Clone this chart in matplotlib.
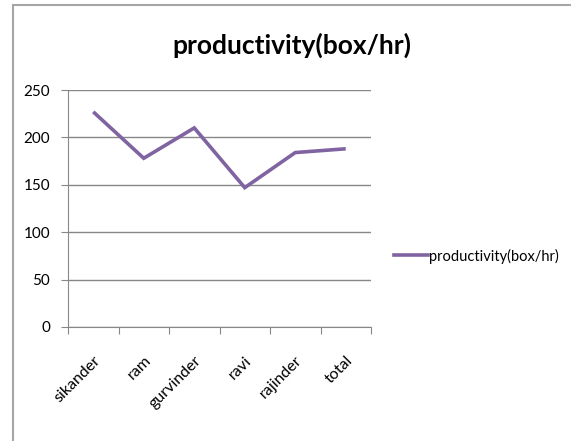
import matplotlib
matplotlib.use("Agg")
import matplotlib.pyplot as plt
from matplotlib.lines import Line2D
import numpy as np

categories = ["sikander", "ram", "gurvinder", "ravi", "rajinder", "total"]
productivity = [227, 178, 210, 147, 184, 188]
y_ticks = [0, 50, 100, 150, 200, 250]
series_name = "productivity(box/hr)"

plt.rcParams["font.family"] = ["Lato", "DejaVu Sans"]

W, H = 571, 441
fig = plt.figure(figsize=(W / 100, H / 100), dpi=100)

# chart frame: top and left edges
fig.add_artist(Line2D([13 / W, 1], [1 - 5 / H, 1 - 5 / H], color="#a6a6a6", lw=1.5,
                      transform=fig.transFigure))
fig.add_artist(Line2D([13 / W, 13 / W], [0, 1 - 5 / H], color="#a6a6a6", lw=1.5,
                      transform=fig.transFigure))

left, right, top, bottom = 68, 371, 90, 327
ax = fig.add_axes([left / W, 1 - bottom / H, (right - left) / W, (bottom - top) / H])

x = np.arange(len(categories))
ax.plot(x, productivity, color="#8064A2", lw=2.6, solid_capstyle="butt",
        solid_joinstyle="miter", label=series_name, zorder=3)

ax.set_xlim(-0.5, len(categories) - 0.5)
ax.set_ylim(0, 250)
ax.set_yticks(y_ticks)
ax.set_yticklabels([str(v) for v in y_ticks], fontsize=11)
ax.grid(axis="y", color="#878787", lw=1)
ax.set_axisbelow(True)

ax.set_xticks(np.arange(len(categories) + 1) - 0.5)
ax.set_xticklabels([])
ax.set_xticks(x, minor=True)
ax.set_xticklabels(categories, minor=True, rotation=45, ha="right",
                   rotation_mode="anchor", fontsize=11.5)
ax.tick_params(axis="x", which="minor", length=0, pad=19)
ax.tick_params(axis="x", which="major", length=5, color="#878787", direction="out")
ax.tick_params(axis="y", length=5, color="#878787", direction="out", pad=8)

for s in ["top", "right"]:
    ax.spines[s].set_visible(False)
for s in ["left", "bottom"]:
    ax.spines[s].set_color("#878787")

fig.text(292 / W, 1 - 45 / H, series_name, ha="center", va="center",
         fontsize=19, fontweight="bold")

handle = Line2D([], [], color="#8064A2", lw=2.6)
fig.legend([handle], [series_name], loc="center left",
           bbox_to_anchor=(381 / W, 1 - 256 / H), frameon=False, fontsize=10.5,
           handlelength=2.3, handletextpad=0.1)

fig.savefig("out.png", dpi=100)
